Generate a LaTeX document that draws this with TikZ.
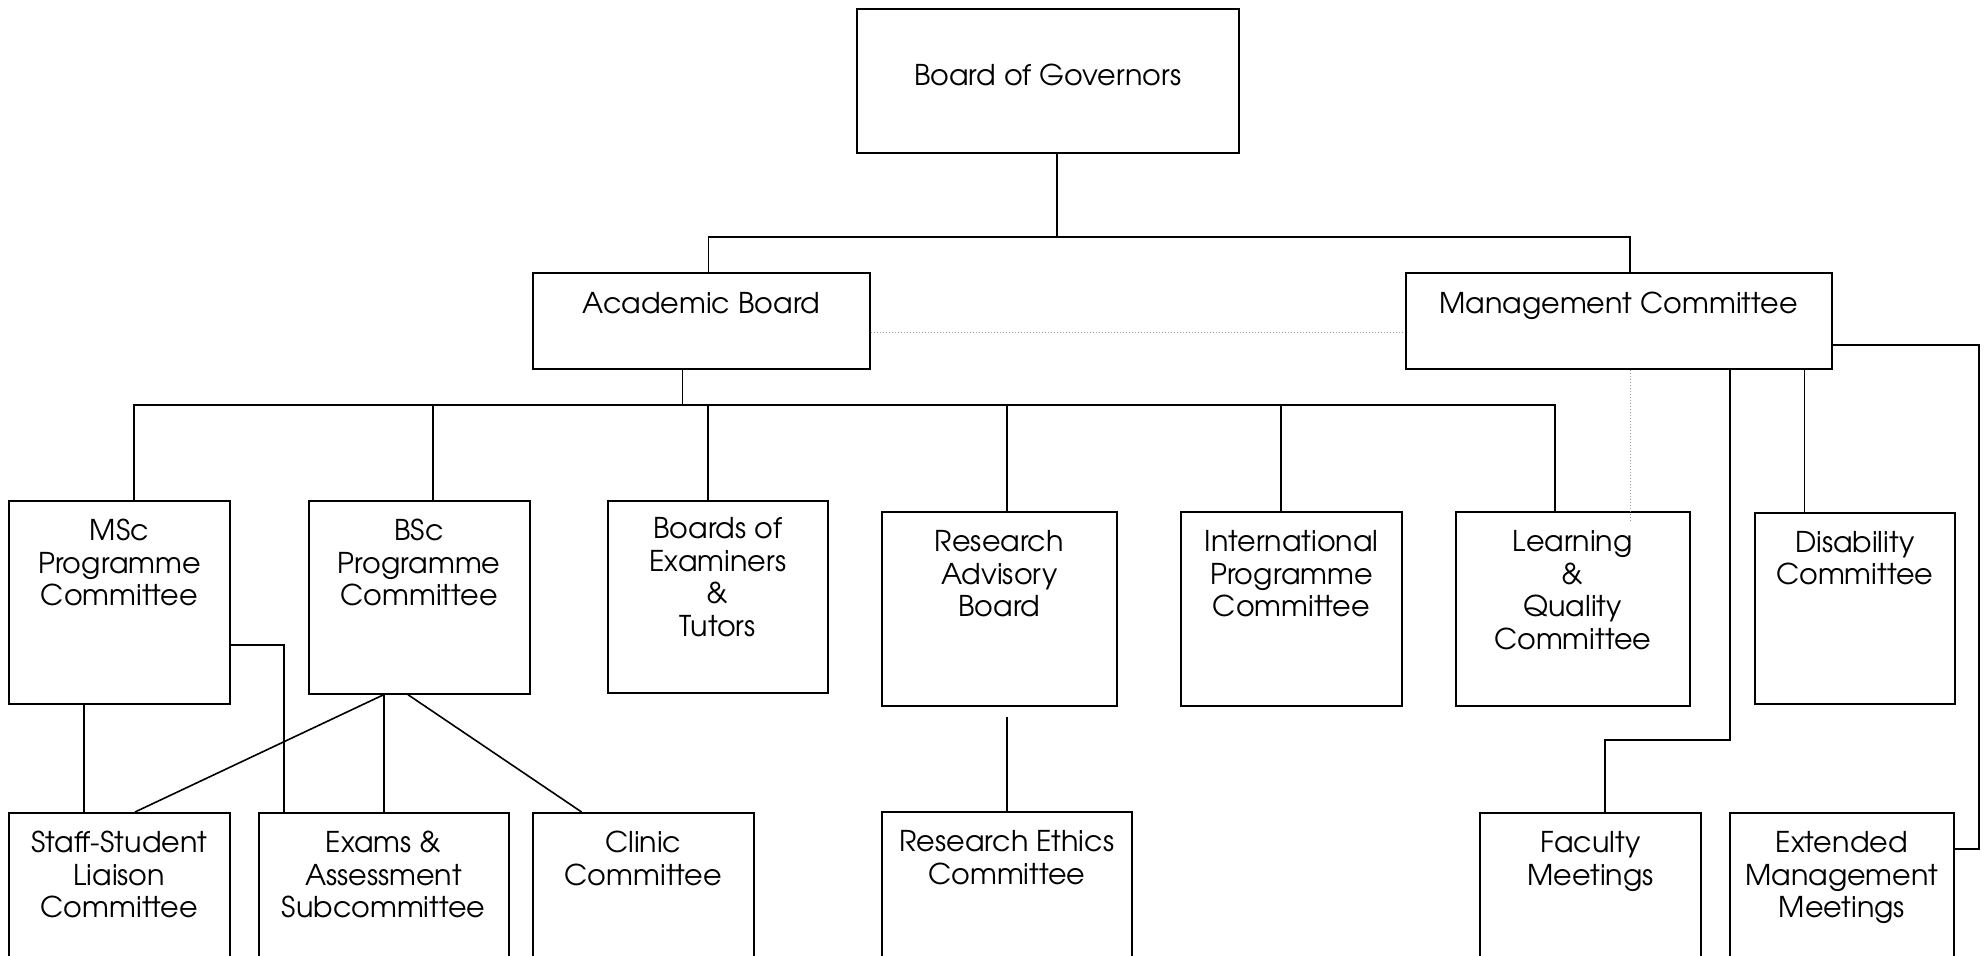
\documentclass[tikz,border=0pt]{standalone}
\usepackage{fontspec}
\setmainfont{texgyreadventor}[Extension=.otf, UprightFont=*-regular, BoldFont=*-bold]
\usetikzlibrary{fit,calc}
% org box: name, x1, y1, x2, y2, text offset from top, text
\newcommand\orgbox[7]{%
  \node[box, fit={(#2,#3) (#4,#5)}] (#1) {};
  \node[txt] (#1-t) at ($(#1.north)+(0,#6)$) {#7};}
\begin{document}
\begin{tikzpicture}[x=0.5pt,y=-0.5pt,
  box/.style={draw, line width=1pt, inner sep=0pt},
  txt/.style={anchor=north, align=center, inner sep=0pt,
              font=\fontsize{14.3}{16.25}\selectfont},
  link/.style={line width=0.8pt},
  faint/.style={line width=0.5pt, gray!80, densely dotted}]
\useasboundingbox (0,0) rectangle (1986,955);
\clip (0,0) rectangle (1986,955);

% top levels
\orgbox{bog}{857}{9}{1238.5}{153}{56}{Board of Governors}
\orgbox{acad}{533}{272.7}{870}{369}{20}{Academic Board}
\orgbox{mgmt}{1405.6}{272.7}{1831.5}{369}{20}{Management Committee}

% committees under the boards
\orgbox{msc}{9}{500.7}{230}{704.3}{19}{MSc\\Programme\\Committee}
\orgbox{bsc}{308.5}{500.7}{529.8}{693.7}{19}{BSc\\Programme\\Committee}
\orgbox{boards}{607.6}{501}{828}{693.3}{17}{Boards of\\Examiners\\\&\\Tutors}
\orgbox{research}{882}{512.3}{1116.8}{705.7}{19}{Research\\Advisory\\Board}
\orgbox{intl}{1181}{512.3}{1402}{705.7}{19}{International\\Programme\\Committee}
\orgbox{learn}{1455.5}{512.3}{1690}{705.7}{19}{Learning\\\&\\Quality\\Committee}
\orgbox{disab}{1755}{512.7}{1954.5}{704}{19}{Disability\\Committee}

% bottom row
\orgbox{staff}{9}{813}{229.6}{975}{19}{Staff-Student\\Liaison\\Committee}
\orgbox{exams}{258.7}{813}{508.7}{975}{19}{Exams \&\\Assessment\\Subcommittee}
\orgbox{clinic}{533}{813}{753.6}{975}{19}{Clinic\\Committee}
\orgbox{ethics}{882}{812}{1131.8}{975}{19}{Research Ethics\\Committee}
\orgbox{faculty}{1480}{813}{1701}{975}{19}{Faculty\\Meetings}
\orgbox{extended}{1729.6}{813}{1954}{975}{19}{Extended\\Management\\Meetings}

% governors to the two boards
\coordinate (j0) at (1057,237);
\coordinate (jA) at (708.5,237);
\coordinate (jM) at (1630,237);
\draw[link] (bog.south -| j0) -- (j0);
\draw[link] (acad.north -| jA) -- (jA) -- (jM) -- (mgmt.north -| jM);

% faint link between the two boards
\coordinate (dh) at (0,332.7);
\draw[faint] (acad.east |- dh) -- (mgmt.west |- dh);

% academic board bus
\coordinate (k0) at (682.6,405);
\coordinate (kL) at (134,405);
\coordinate (kR) at (1555,405);
\coordinate (k1) at (433,405);
\coordinate (k2) at (708,405);
\coordinate (k3) at (1007,405);
\coordinate (k4) at (1281,405);
\draw[link] (acad.south -| k0) -- (k0);
\draw[link] (msc.north -| kL) -- (kL) -- (kR) -- (learn.north -| kR);
\draw[link] (k1) -- (bsc.north -| k1);
\draw[link] (k2) -- (boards.north -| k2);
\draw[link] (k3) -- (research.north -| k3);
\draw[link] (k4) -- (intl.north -| k4);

% management committee links
\coordinate (dv) at (1630,523);
\draw[faint] (mgmt.south -| dv) -- (dv);
\coordinate (m1) at (1730,740);
\coordinate (m2) at (1605,740);
\draw[link] (mgmt.south -| m1) -- (m1) -- (m2) -- (faculty.north -| m2);
\coordinate (m3) at (1804.4,0);
\draw[link] (mgmt.south -| m3) -- (disab.north -| m3);
\coordinate (r1) at (1979,345);
\coordinate (r2) at (1979,848.7);
\draw[link] (mgmt.east |- r1) -- (r1) -- (r2) -- (extended.east |- r2);

% programme committee links
\coordinate (s1) at (84,0);
\draw[link] (msc.south -| s1) -- (staff.north -| s1);
\coordinate (s2) at (0,645);
\coordinate (s3) at (284,645);
\draw[link] (msc.east |- s2) -- (s3) -- (exams.north -| s3);
\coordinate (b1) at (383.7,0);
\coordinate (b2) at (408,0);
\coordinate (c1) at (135,0);
\coordinate (c2) at (581.6,0);
\draw[link] (bsc.south -| b1) -- (staff.north -| c1);
\draw[link] (bsc.south -| b1) -- (exams.north -| b1);
\draw[link] (bsc.south -| b2) -- (clinic.north -| c2);

% research ethics
\coordinate (e1) at (1007,716.7);
\draw[link] (e1) -- (ethics.north -| e1);
\end{tikzpicture}
\end{document}
